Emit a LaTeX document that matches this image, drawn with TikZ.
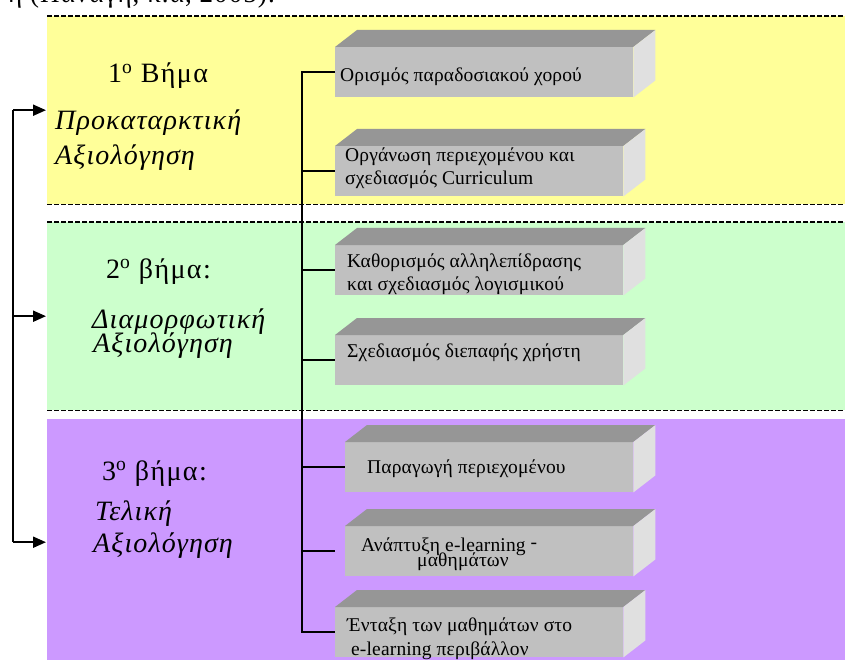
\documentclass[tikz,border=0pt]{standalone}
\usepackage{fontspec}
\setmainfont{Liberation Serif}
\usetikzlibrary{arrows.meta}
\definecolor{yband}{HTML}{FFFF99}
\definecolor{gband}{HTML}{CCFFCC}
\definecolor{pband}{HTML}{CC99FF}
\definecolor{frontgray}{HTML}{C0C0C0}
\definecolor{topgray}{HTML}{969696}
\definecolor{sidegray}{HTML}{E0E0E0}
\tikzset{
  band/.style={anchor=north west, inner sep=0pt, draw=none, minimum width=798pt},
  dashline/.style={line width=1.1pt, dash pattern=on 4.5pt off 2.5pt},
  boxfront/.style={anchor=north west, inner sep=0pt, fill=frontgray, draw=none, minimum height=50pt},
  boxtext/.style={anchor=base west, inner sep=0pt, font=\fontsize{19.5}{22}\selectfont\addfontfeature{LetterSpace=0.8}},
  bigtext/.style={anchor=base west, inner sep=0pt, font=\fontsize{28}{32}\selectfont\addfontfeature{LetterSpace=5}},
  bigit/.style={anchor=base west, inner sep=0pt, font=\fontsize{28}{32}\selectfont\itshape\addfontfeature{LetterSpace=4}},
  conn/.style={line width=1.6pt},
  bracket/.style={line width=2pt},
  arr/.style={line width=2pt, -{Triangle[length=13pt,width=11pt]}}
}
\newcommand\cubefaces[1]{%
  \fill[topgray] (#1.north west) -- ++(22,-17) -- ([shift={(22,-17)}]#1.north east) -- (#1.north east) -- cycle;
  \fill[sidegray] (#1.north east) -- ([shift={(22,-17)}]#1.north east) -- ([shift={(22,-17)}]#1.south east) -- (#1.south east) -- cycle;
}
\begin{document}
\begin{tikzpicture}[x=1pt,y=-1pt]
\useasboundingbox (0,0) rectangle (845,660);
\clip (0,0) rectangle (845,660);
\fill[white] (0,0) rectangle (845,660);

% cut-off caption line at the top
\node[anchor=base west, inner sep=0pt, font=\fontsize{27}{31}\selectfont\addfontfeature{LetterSpace=4}] (cite) at (8,3) {η (Παναγή, κ.ά, 2005).};

% bands
\node[band, fill=yband, minimum height=188pt] (band1) at (47,16) {};
\node[band, fill=gband, minimum height=188pt] (band2) at (47,222) {};
\node[band, fill=pband, minimum height=246pt] (band3) at (47,419) {};
\draw[dashline] (band1.north west) -- (band1.north east);
\draw[dashline] (band1.south west) -- (band1.south east);
\draw[dashline] (band2.north west) -- (band2.north east);
\draw[dashline] (band2.south west) -- (band2.south east);

% left bracket with arrows
\coordinate (lx) at (13,0);
\draw[bracket] (lx |- band1.west) -- (lx |- band3.west);
\draw[arr] (lx |- band1.west) -- ([xshift=-1pt]band1.west);
\draw[arr] (lx |- band2.west) -- ([xshift=-1pt]band2.west);
\draw[arr] (lx |- band3.west) -- ([xshift=-1pt]band3.west);

% left texts
\node[bigtext] (s1a) at (108,83) {1\textsuperscript{ο}\ Βήμα};
\node[bigit] (s1b) at (55,130) {Προκαταρκτική};
\node[bigit] (s1c) at (55,165) {Αξιολόγηση};
\node[bigtext] (s2a) at (106,278) {2\textsuperscript{ο}\ βήμα:};
\node[bigit] (s2b) at (92,328) {Διαμορφωτική};
\node[bigit] (s2c) at (93,352) {Αξιολόγηση};
\node[bigtext] (s3a) at (102,480) {3\textsuperscript{ο}\ βήμα:};
\node[bigit] (s3b) at (95,520) {Τελική};
\node[bigit] (s3c) at (93,552) {Αξιολόγηση};

% boxes
\node[boxfront, minimum width=298pt] (b1) at (335,47) {};
\node[boxfront, minimum width=288pt] (b2) at (335,146) {};
\node[boxfront, minimum width=288pt] (b3) at (335,245) {};
\node[boxfront, minimum width=288pt] (b4) at (335,335) {};
\node[boxfront, minimum width=288pt] (b5) at (345,442) {};
\node[boxfront, minimum width=288pt] (b6) at (345,526) {};
\node[boxfront, minimum width=288pt] (b7) at (335,607) {};
\cubefaces{b1}\cubefaces{b2}\cubefaces{b3}\cubefaces{b4}\cubefaces{b5}\cubefaces{b6}\cubefaces{b7}

% box texts
\node[boxtext] (t1) at (340,82) {Ορισμός παραδοσιακού χορού};
\node[boxtext] (t2a) at (345,162) {Οργάνωση περιεχομένου και};
\node[boxtext] (t2b) at (345,185) {σχεδιασμός Curriculum};
\node[boxtext] (t3a) at (347,267) {Καθορισμός αλληλεπίδρασης};
\node[boxtext] (t3b) at (347,290) {και σχεδιασμός λογισμικού};
\node[boxtext] (t4) at (347,357) {Σχεδιασμός διεπαφής χρήστη};
\node[boxtext] (t5) at (367,473) {Παραγωγή περιεχομένου};
\node[boxtext] (t6a) at (361,551) {Ανάπτυξη e-learning \raisebox{3pt}{-}};
\node[boxtext] (t6b) at (417,566) {μαθημάτων};
\node[boxtext] (t7a) at (347,631) {Ένταξη των μαθημάτων στο};
\node[boxtext] (t7b) at (351,655) {e-learning περιβάλλον};

% tree connectors
\coordinate (tk) at (302,0);
\draw[conn] (b1.west) -- (tk |- b1.west) -- (tk |- b7.west) -- (b7.west);
\draw[conn] (tk |- b2.west) -- (b2.west);
\draw[conn] (tk |- b3.west) -- (b3.west);
\draw[conn] (tk |- b4.west) -- (b4.west);
\draw[conn] (tk |- b5.west) -- (b5.west);
\coordinate (b6end) at ([xshift=-10pt]b6.west);
\draw[conn] (tk |- b6.west) -- (b6end);
\end{tikzpicture}
\end{document}
